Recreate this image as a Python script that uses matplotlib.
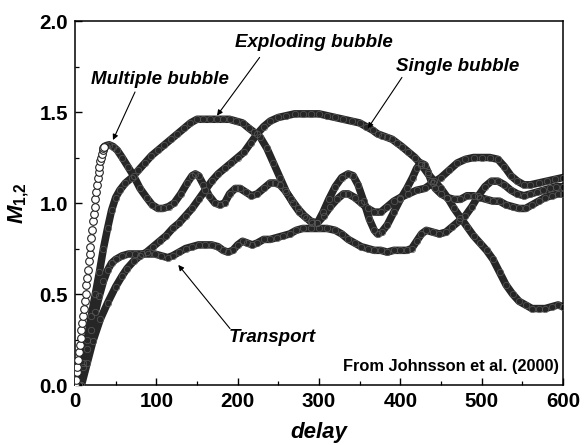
import matplotlib
matplotlib.use("Agg")
import matplotlib.pyplot as plt

plt.rcParams['font.family'] = ['Liberation Sans', 'DejaVu Sans']
plt.rcParams['mathtext.fontset'] = 'custom'
plt.rcParams['mathtext.it'] = 'Liberation Sans:italic:bold'
plt.rcParams['mathtext.rm'] = 'Liberation Sans:bold'
plt.rcParams['mathtext.bf'] = 'Liberation Sans:bold'

# ---- data ----
# Multiple bubble: early open-circle part (each circle visible)
multi_early_x = list(range(0, 37))
multi_early_y = [0.00, 0.03, 0.07, 0.10, 0.14, 0.18, 0.22, 0.26, 0.30, 0.34,
                 0.38, 0.42, 0.46, 0.50, 0.55, 0.59, 0.63, 0.68, 0.72, 0.76,
                 0.81, 0.85, 0.90, 0.94, 0.98, 1.02, 1.06, 1.10, 1.14, 1.17,
                 1.20, 1.23, 1.25, 1.27, 1.29, 1.30, 1.31]
multi_x = [36, 38, 42, 47, 52, 58, 65, 72, 80, 88, 95, 102, 108, 115, 122, 130,
           138, 144, 148, 152, 158, 165, 172, 178, 184, 190, 197, 203, 210, 217,
           224, 232, 240, 246, 252, 258, 266, 274, 282, 290, 298, 305, 312, 320,
           328, 336, 342, 348, 355, 362, 368, 372, 377, 384, 392, 400, 408, 415,
           420, 425, 430, 434, 438, 443, 450, 458, 466, 474, 482, 490, 498, 506,
           514, 522, 530, 538, 546, 554, 562, 570, 578, 586, 594, 600]
multi_y = [1.31, 1.315, 1.32, 1.31, 1.29, 1.25, 1.20, 1.15, 1.08, 1.03, 0.99, 0.97,
           0.97, 0.98, 1.00, 1.05, 1.11, 1.15, 1.16, 1.15, 1.10, 1.04, 1.00, 0.99,
           1.00, 1.05, 1.08, 1.08, 1.06, 1.04, 1.05, 1.08, 1.11, 1.11, 1.10, 1.07,
           1.02, 0.97, 0.93, 0.90, 0.89, 0.95, 1.02, 1.09, 1.14, 1.16, 1.15, 1.10,
           1.01, 0.91, 0.85, 0.83, 0.84, 0.88, 0.95, 1.02, 1.08, 1.14, 1.19, 1.22,
           1.21, 1.17, 1.12, 1.08, 1.05, 1.03, 1.02, 1.02, 1.04, 1.04, 1.03, 1.02,
           1.01, 1.01, 0.99, 0.98, 0.97, 0.97, 0.99, 1.01, 1.03, 1.04, 1.05, 1.05]

expl_x = [5, 10, 15, 20, 25, 30, 35, 40, 45, 50, 55, 62, 70, 78, 86, 94, 102, 110,
          118, 126, 134, 142, 150, 158, 166, 174, 182, 190, 198, 206, 214, 220,
          228, 236, 244, 252, 260, 268, 276, 284, 292, 298, 306, 314, 322, 330,
          336, 344, 352, 360, 368, 376, 384, 392, 400, 410, 420, 430, 440, 450,
          460, 470, 480, 490, 500, 510, 520, 528, 536, 544, 552, 560, 570, 580,
          590, 600]
expl_y = [0.00, 0.12, 0.25, 0.38, 0.50, 0.62, 0.75, 0.86, 0.96, 1.03, 1.07, 1.11,
          1.14, 1.18, 1.22, 1.26, 1.29, 1.32, 1.35, 1.38, 1.41, 1.44, 1.46, 1.46,
          1.46, 1.46, 1.46, 1.46, 1.45, 1.44, 1.41, 1.39, 1.36, 1.30, 1.22, 1.14,
          1.06, 1.00, 0.95, 0.92, 0.89, 0.89, 0.93, 0.98, 1.02, 1.05, 1.05, 1.03,
          1.00, 0.97, 0.95, 0.95, 0.98, 1.01, 1.03, 1.05, 1.07, 1.08, 1.11, 1.14,
          1.18, 1.22, 1.24, 1.25, 1.25, 1.25, 1.24, 1.20, 1.15, 1.12, 1.10, 1.10,
          1.11, 1.12, 1.13, 1.14]

single_x = [8, 15, 22, 31, 40, 50, 58, 64, 72, 80, 88, 96, 104, 112, 120, 128, 136,
            144, 152, 160, 168, 176, 184, 192, 200, 208, 216, 224, 232, 240, 250,
            260, 270, 280, 290, 300, 310, 320, 330, 340, 350, 358, 366, 372, 378,
            384, 390, 396, 402, 410, 418, 426, 434, 442, 450, 458, 466, 474, 482,
            490, 498, 506, 514, 522, 530, 538, 546, 554, 562, 570, 578, 586, 594,
            600]
single_y = [0.00, 0.12, 0.24, 0.36, 0.45, 0.54, 0.60, 0.64, 0.68, 0.71, 0.73, 0.76,
            0.79, 0.82, 0.86, 0.89, 0.93, 0.97, 1.02, 1.07, 1.12, 1.16, 1.19, 1.22,
            1.25, 1.28, 1.33, 1.38, 1.42, 1.45, 1.47, 1.48, 1.49, 1.49, 1.49, 1.49,
            1.48, 1.47, 1.46, 1.45, 1.44, 1.42, 1.40, 1.38, 1.37, 1.36, 1.35, 1.33,
            1.31, 1.28, 1.25, 1.21, 1.16, 1.12, 1.08, 1.03, 0.97, 0.92, 0.87, 0.82,
            0.78, 0.74, 0.69, 0.62, 0.55, 0.50, 0.46, 0.44, 0.42, 0.42, 0.42, 0.43,
            0.44, 0.43]

trans_x = [5, 10, 15, 20, 25, 30, 35, 40, 45, 50, 58, 66, 74, 82, 90, 98, 106, 114,
           120, 128, 136, 144, 152, 160, 168, 176, 182, 188, 194, 200, 206, 212,
           218, 224, 232, 240, 248, 256, 264, 272, 280, 290, 300, 310, 320, 328,
           336, 344, 352, 360, 368, 376, 384, 392, 400, 408, 414, 420, 426, 432,
           440, 448, 456, 464, 472, 480, 488, 496, 504, 512, 520, 528, 536, 544,
           552, 560, 568, 576, 584, 592, 600]
trans_y = [0.00, 0.10, 0.20, 0.30, 0.40, 0.49, 0.57, 0.63, 0.67, 0.69, 0.71, 0.72,
           0.72, 0.72, 0.72, 0.72, 0.71, 0.70, 0.71, 0.73, 0.75, 0.76, 0.77, 0.77,
           0.77, 0.76, 0.74, 0.73, 0.74, 0.77, 0.79, 0.78, 0.77, 0.78, 0.80, 0.80,
           0.81, 0.82, 0.83, 0.85, 0.86, 0.86, 0.86, 0.86, 0.85, 0.83, 0.80, 0.78,
           0.76, 0.75, 0.74, 0.74, 0.73, 0.74, 0.74, 0.74, 0.75, 0.79, 0.83, 0.85,
           0.84, 0.83, 0.84, 0.87, 0.90, 0.93, 0.98, 1.04, 1.09, 1.12, 1.12, 1.10,
           1.07, 1.05, 1.04, 1.05, 1.06, 1.07, 1.08, 1.09, 1.09]

x_ticks = [0, 100, 200, 300, 400, 500, 600]
y_ticks = [0.0, 0.5, 1.0, 1.5, 2.0]

# ---- figure ----
fig = plt.figure(figsize=(5.84, 4.45), dpi=100)
ax = fig.add_axes([0.1284, 0.1348, 0.8356, 0.818])

band_c = '#262626'
def band(xs, ys):
    ax.plot(xs, ys, '-', color=band_c, lw=5.4, solid_capstyle='round',
            solid_joinstyle='round', zorder=2)
    ax.plot(xs, ys, 'o', mfc='none', mec='#5a5a5a', ms=4.6, mew=0.5, zorder=3)

band(trans_x, trans_y)
band(single_x, single_y)
band(expl_x, expl_y)
band(multi_x, multi_y)
ax.plot(multi_early_x, multi_early_y, 'o', mfc='white', mec='#222222',
        ms=5.5, mew=0.8, zorder=4)

ax.set_xlim(0, 600)
ax.set_ylim(0, 2.0)
ax.set_xticks(x_ticks)
ax.set_yticks(y_ticks)
ax.set_xticklabels([str(v) for v in x_ticks])
ax.set_yticklabels([f"{v:.1f}" for v in y_ticks])
ax.set_xticks(range(50, 600, 100), minor=True)
ax.set_yticks([0.25, 0.75, 1.25, 1.75], minor=True)
ax.tick_params(which='major', direction='in', length=5, width=1.0,
               labelsize=14.8, pad=5, top=False, right=False)
ax.tick_params(which='minor', direction='in', length=3, width=0.9,
               top=False, right=False)
for lab in ax.get_xticklabels() + ax.get_yticklabels():
    lab.set_fontweight('bold')
for s in ax.spines.values():
    s.set_linewidth(1.1)

ax.set_xlabel('delay', fontsize=16, fontweight='bold', style='italic',
              labelpad=8)
ax.set_ylabel(r'$M_{1{,}2}$', fontsize=16, labelpad=6)

txt_kw = dict(fontsize=13.5, fontweight='bold', style='italic', ha='center',
              va='center', zorder=6)
ax.text(104.5, 1.676, 'Multiple bubble', **txt_kw)
ax.text(294, 1.88, 'Exploding bubble', **txt_kw)
ax.text(470, 1.75, 'Single bubble', **txt_kw)
ax.text(242, 0.26, 'Transport', **txt_kw)
ax.text(595, 0.10, 'From Johnsson et al. (2000)', fontsize=11.8,
        fontweight='bold', ha='right', va='center')

arr = dict(arrowstyle='-|>', color='black', lw=0.8, mutation_scale=8,
           shrinkA=0, shrinkB=0)
ax.annotate('', xy=(46.7, 1.346), xytext=(73.8, 1.61), arrowprops=arr)
ax.annotate('', xy=(174.6, 1.48), xytext=(227, 1.80), arrowprops=arr)
ax.annotate('', xy=(360, 1.41), xytext=(402, 1.69), arrowprops=arr)
ax.annotate('', xy=(127, 0.66), xytext=(190.6, 0.31), arrowprops=arr)

fig.savefig('out.png', dpi=100)
